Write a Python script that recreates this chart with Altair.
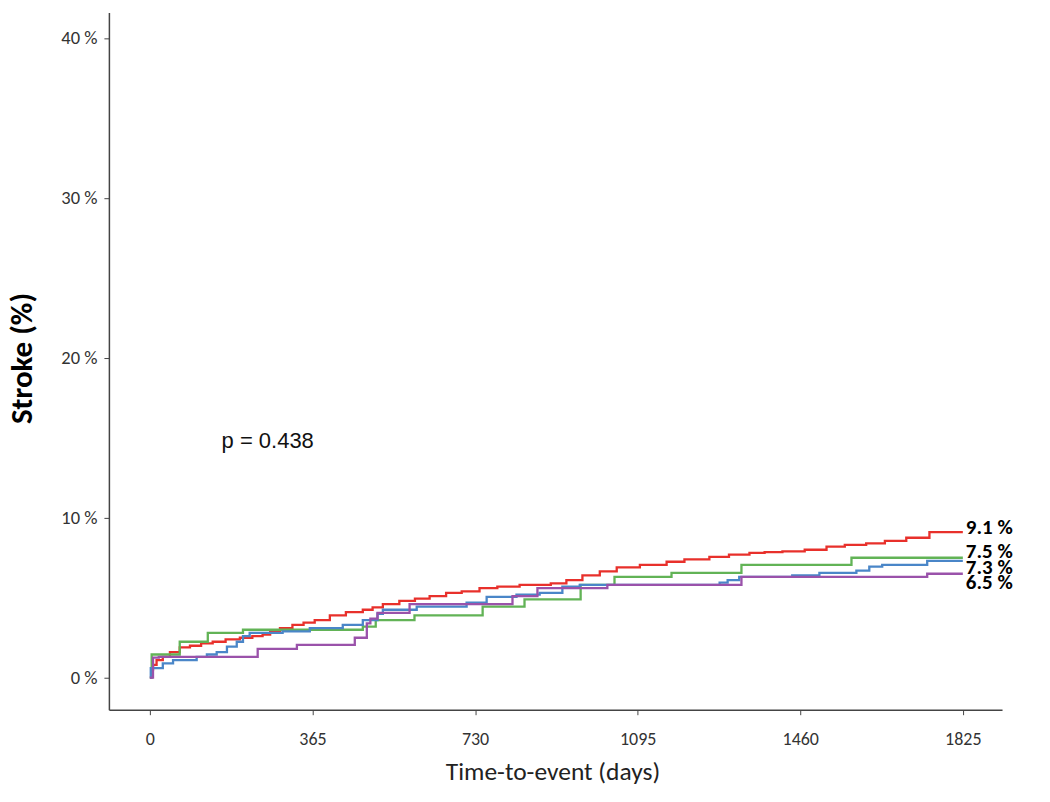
import altair as alt
import pandas as pd

# ---- data ----
groups = ["Group A", "Group B", "Group C", "Group D"]
end_labels = ["9.1 %", "7.5 %", "7.3 %", "6.5 %"]

red_days = [0, 3, 7, 15, 29, 45, 67, 90, 115, 141, 170, 202, 230, 253, 270, 292, 320, 345,
            370, 404, 440, 478, 500, 523, 560, 595, 628, 665, 700, 740, 780, 830, 900, 935,
            971, 1010, 1048, 1100, 1160, 1200, 1256, 1300, 1346, 1380, 1420, 1470, 1519,
            1560, 1608, 1650, 1698, 1750, 1825]
red_pct = [0, 0.5, 0.8, 1.1, 1.3, 1.6, 1.9, 2.0, 2.15, 2.25, 2.4, 2.5, 2.6, 2.7, 2.9, 3.1,
           3.3, 3.45, 3.6, 3.9, 4.1, 4.25, 4.4, 4.6, 4.8, 4.95, 5.1, 5.3, 5.4, 5.6, 5.7, 5.8,
           5.9, 6.1, 6.4, 6.65, 6.9, 7.05, 7.25, 7.4, 7.56, 7.7, 7.8, 7.85, 7.9, 8.0, 8.2,
           8.3, 8.4, 8.55, 8.75, 9.1, 9.1]

green_days = [0, 4, 67, 130, 209, 478, 507, 594, 747, 841, 967, 1043, 1171, 1328, 1575, 1825]
green_pct = [0, 1.45, 2.25, 2.8, 3.0, 3.2, 3.6, 3.9, 4.45, 4.9, 5.8, 6.3, 6.55, 7.05, 7.5, 7.5]

blue_days = [0, 2, 29, 52, 105, 128, 150, 173, 195, 209, 224, 298, 359, 433, 478, 511, 523,
             599, 711, 756, 823, 875, 926, 965, 1279, 1297, 1323, 1442, 1503, 1586, 1615,
             1644, 1745, 1825]
blue_pct = [0, 0.6, 0.9, 1.1, 1.3, 1.45, 1.6, 1.95, 2.25, 2.6, 2.8, 2.9, 3.1, 3.3, 3.6, 4.0,
            4.25, 4.45, 4.7, 5.05, 5.2, 5.3, 5.7, 5.8, 5.95, 6.1, 6.3, 6.4, 6.55, 6.7, 6.95,
            7.05, 7.3, 7.3]

purple_days = [0, 7, 20, 242, 330, 460, 487, 495, 511, 583, 814, 870, 1027, 1328, 1745, 1825]
purple_pct = [0, 1.25, 1.3, 1.8, 2.05, 2.5, 3.4, 3.7, 4.05, 4.6, 5.1, 5.6, 5.8, 6.3, 6.5, 6.5]

x_ticks = [0, 365, 730, 1095, 1460, 1825]
y_ticks = [0, 10, 20, 30, 40]
p_text = "p = 0.438"
p_pos = (161, 14.8)

# ---- styling ----
colors = ["#E8302B", "#62B356", "#4A86C8", "#9A52AA"]
label_dy = [-4.5, -6, 7, 9]
FONT = "Carlito, Lato, sans-serif"

series = [(red_days, red_pct), (green_days, green_pct),
          (blue_days, blue_pct), (purple_days, purple_pct)]
rows = []
for g, (d, p) in zip(groups, series):
    for dd, pp in zip(d, p):
        rows.append({"group": g, "day": dd, "pct": pp})
df = pd.DataFrame(rows)

xscale = alt.Scale(domain=[-92, 1913], nice=False, zero=False)
yscale = alt.Scale(domain=[-2, 41.6], nice=False, zero=False)

lines = alt.Chart(df).mark_line(interpolate="step-after", strokeWidth=2.3).encode(
    x=alt.X("day:Q", scale=xscale,
            axis=alt.Axis(values=x_ticks, format="d", title="Time-to-event (days)",
                          grid=False, tickSize=5, labelPadding=25, labelBaseline="middle",
                          labelFontSize=18, labelFont=FONT, labelColor="#333333",
                          titleFont=FONT, titleFontSize=25.5, titleFontWeight="normal",
                          titleColor="#222222", titleX=444, titleY=62,
                          titleBaseline="middle", titleAlign="center",
                          domainColor="#444444", domainWidth=1.5, tickColor="#444444",
                          labelFlush=False)),
    y=alt.Y("pct:Q", scale=yscale,
            axis=alt.Axis(values=y_ticks, labelExpr="datum.value + ' %'",
                          title="Stroke (%)", grid=False, tickSize=5, labelPadding=7,
                          labelFontSize=18.5, labelFont=FONT, labelColor="#333333",
                          titleFont=FONT, titleFontSize=31, titleFontWeight="bold",
                          titleColor="#000000", titleAngle=-90, titleX=-86, titleY=346,
                          titleBaseline="middle", titleAlign="center",
                          domainColor="#444444", domainWidth=1.5, tickColor="#444444",
                          labelFlush=False)),
    color=alt.Color("group:N", scale=alt.Scale(domain=groups, range=colors), legend=None),
    detail="group:N",
)

layers = [lines]
for g, (d, p), lab, dy in zip(groups, series, end_labels, label_dy):
    ldf = pd.DataFrame({"day": [d[-1]], "pct": [p[-1]], "label": [lab]})
    layers.append(
        alt.Chart(ldf).mark_text(align="left", baseline="middle", dx=3, dy=dy,
                                 font=FONT, fontSize=21, fontWeight="bold",
                                 color="#000000").encode(
            x=alt.X("day:Q", scale=xscale), y=alt.Y("pct:Q", scale=yscale),
            text="label:N")
    )

pdf = pd.DataFrame({"day": [p_pos[0]], "pct": [p_pos[1]], "label": [p_text]})
layers.append(
    alt.Chart(pdf).mark_text(align="left", baseline="middle", font="Liberation Sans",
                             fontSize=22, color="#111111").encode(
        x=alt.X("day:Q", scale=xscale), y=alt.Y("pct:Q", scale=yscale), text="label:N")
)

chart = alt.layer(*layers).properties(
    width=894, height=698,
    autosize=alt.AutoSizeParams(type="none"),
    padding={"left": 101, "top": 4, "right": 40, "bottom": 84},
    background="white",
).configure_view(strokeWidth=0)

chart.save("out.html", embed_options={"renderer": "svg", "actions": False})
